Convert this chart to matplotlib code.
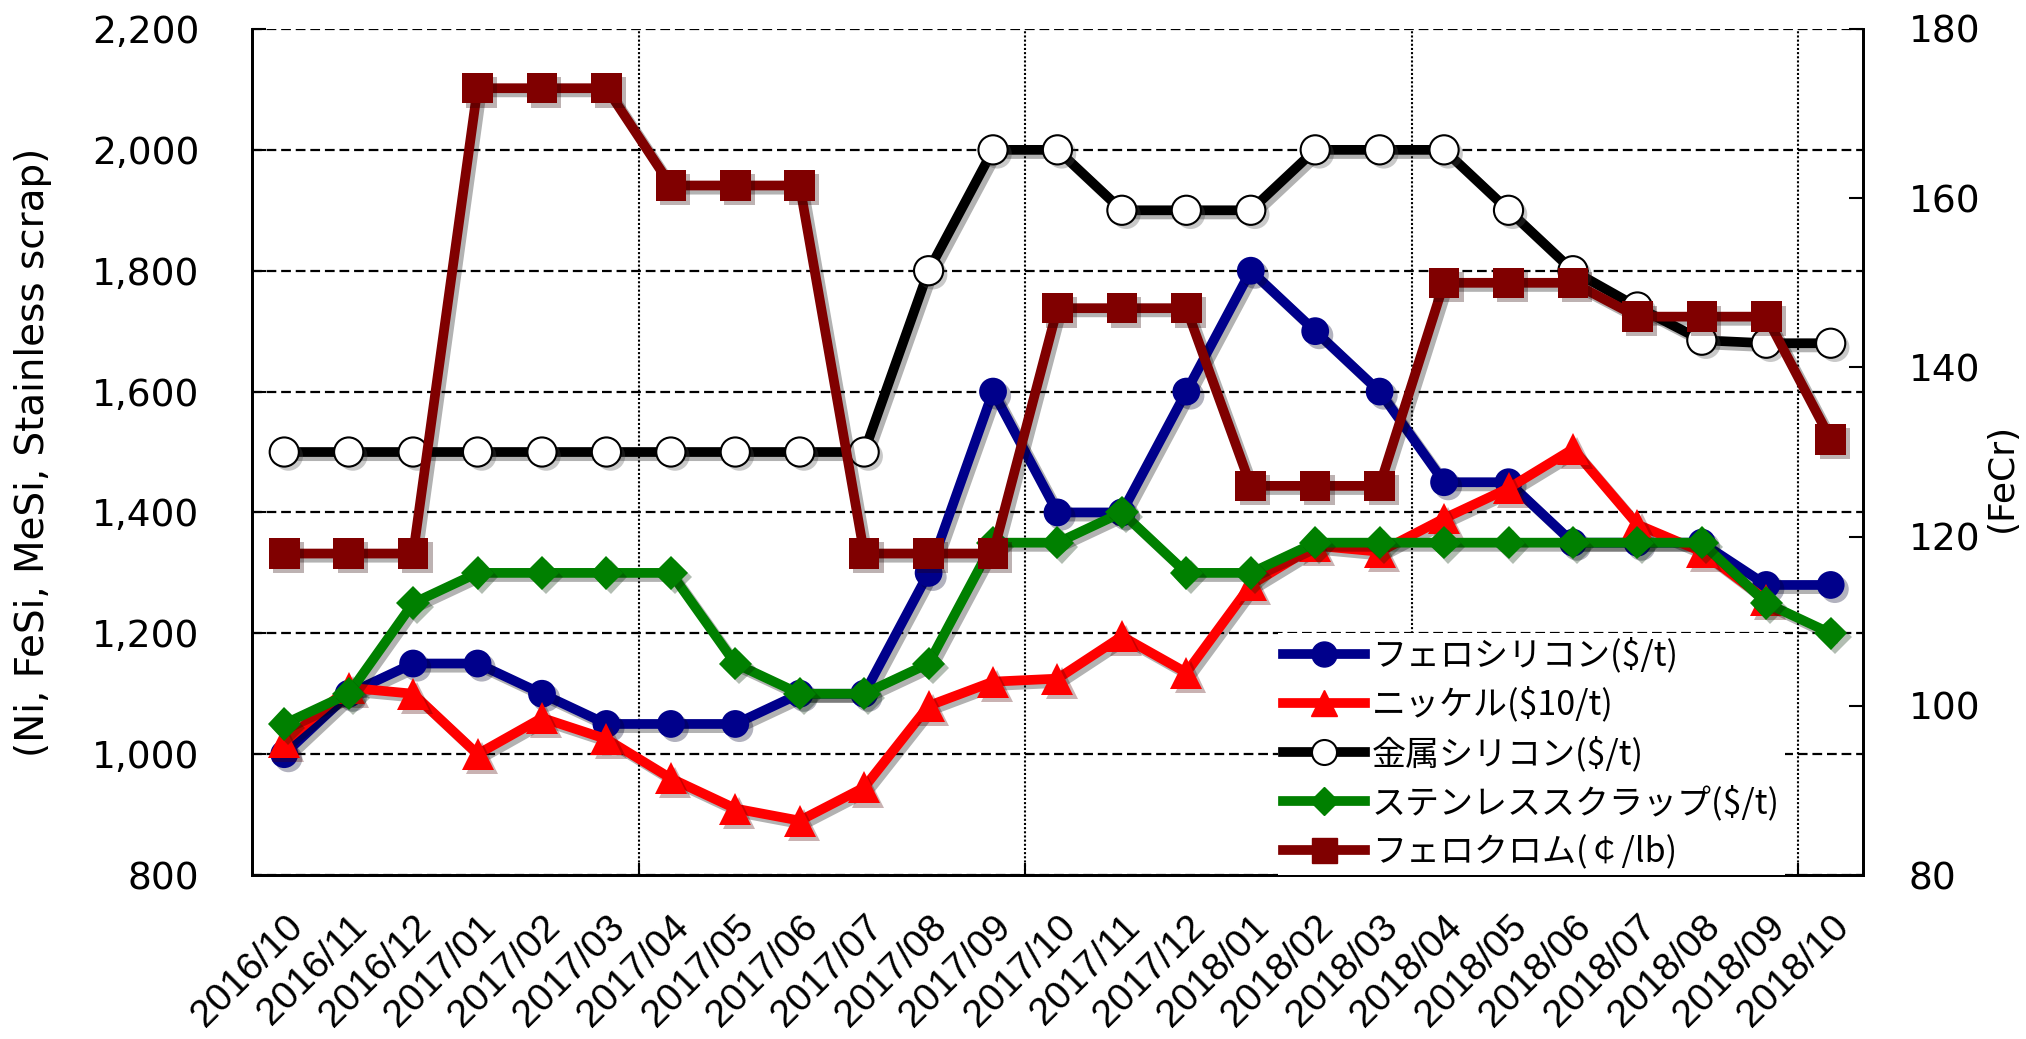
import numpy as np
import matplotlib
matplotlib.use('Agg')
import matplotlib.pyplot as plt
import matplotlib.patheffects as pe
from matplotlib.lines import Line2D

plt.rcParams['font.family'] = ['DejaVu Sans', 'Noto Sans CJK JP']
plt.rcParams['lines.scale_dashes'] = False

# データ
months = ['2016/10', '2016/11', '2016/12',
          '2017/01', '2017/02', '2017/03', '2017/04', '2017/05', '2017/06',
          '2017/07', '2017/08', '2017/09', '2017/10', '2017/11', '2017/12',
          '2018/01', '2018/02', '2018/03', '2018/04', '2018/05', '2018/06',
          '2018/07', '2018/08', '2018/09', '2018/10']

fesi = [1000, 1100, 1150, 1150, 1100, 1050, 1050, 1050, 1100, 1100, 1300, 1600,
        1400, 1400, 1600, 1800, 1700, 1600, 1450, 1450, 1350, 1350, 1350, 1280, 1280]
nickel = [1020, 1110, 1100, 1000, 1060, 1025, 960, 910, 890, 945, 1080, 1120,
          1125, 1195, 1135, 1280, 1345, 1335, 1390, 1440, 1505, 1380, 1335, 1255, np.nan]
mesi = [1500, 1500, 1500, 1500, 1500, 1500, 1500, 1500, 1500, 1500, 1800, 2000,
        2000, 1900, 1900, 1900, 2000, 2000, 2000, 1900, 1800, 1740, 1685, 1680, 1680]
scrap = [1050, 1100, 1250, 1300, 1300, 1300, 1300, 1150, 1100, 1100, 1150, 1350,
         1350, 1400, 1300, 1300, 1350, 1350, 1350, 1350, 1350, 1350, 1350, 1250, 1200]
fecr = [118, 118, 118, 173, 173, 173, 161.5, 161.5, 161.5, 118, 118, 118,
        147, 147, 147, 126, 126, 126, 150, 150, 150, 146, 146, 146, 131.5]

names = ['フェロシリコン($/t)', 'ニッケル($10/t)', '金属シリコン($/t)',
         'ステンレススクラップ($/t)', 'フェロクロム(￠/lb)']

x = np.arange(len(months))

fig = plt.figure(figsize=(20.26, 10.39), dpi=100)
ax = fig.add_axes([0.1244, 0.1578, 0.7951, 0.8143])
ax2 = ax.twinx()

line_fx = [pe.SimpleLineShadow(offset=(3, -3), alpha=0.3), pe.Normal()]
mark_fx = [pe.SimplePatchShadow(offset=(3, -3), alpha=0.3), pe.Normal()]


def serie(a, y, color, marker, ms, mfc=None, mec=None, mew=0):
    a.plot(x, y, color=color, lw=7, solid_joinstyle='round', path_effects=line_fx)
    a.plot(x, y, ls='none', marker=marker, ms=ms, mfc=mfc or color,
           mec=mec or color, mew=mew, path_effects=mark_fx)


serie(ax, fesi, '#00008B', 'o', 20)
serie(ax, nickel, '#FF0000', '^', 23)
serie(ax, mesi, '#000000', 'o', 21, mfc='white', mec='black', mew=1.5)
serie(ax, scrap, '#008000', 'D', 17)
serie(ax2, fecr, '#800000', 's', 22)

ax.set_xlim(-0.5, 24.5)
ax.set_ylim(800, 2200)
ax2.set_ylim(80, 180)

yt = list(range(800, 2201, 200))
ax.set_yticks(yt)
ax.set_yticklabels([f'{v:,}' for v in yt])
ax2.set_yticks(range(80, 181, 20))

ax.set_xticks(x)
ax.set_xticklabels(months, rotation=45, ha='right', rotation_mode='anchor',
                   fontfamily='Liberation Sans', fontsize=28)
ax.set_xticks([5.5, 11.5, 17.5, 23.5], minor=True)
ax.tick_params(axis='x', which='major', length=0, pad=24)
ax.tick_params(axis='x', which='minor', direction='in', length=9, width=1.5)
ax.tick_params(axis='y', direction='in', length=10, width=1.5, pad=38, labelsize=27)
ax2.tick_params(axis='y', direction='in', length=10, width=1.5, pad=33, labelsize=27)

ax.set_axisbelow(True)
ax.grid(which='major', axis='y', color='k', ls=(0, (7, 3.5)), lw=1.6)
ax.grid(which='minor', axis='x', color='k', ls=(0, (1.5, 1.5)), lw=1.5)

for a in (ax, ax2):
    a.spines['top'].set_visible(False)
    for s in ('left', 'right', 'bottom'):
        a.spines[s].set_linewidth(2)

ax.set_ylabel('(Ni, FeSi, MeSi, Stainless scrap)', fontsize=28)
ax.yaxis.set_label_coords(-0.124, 0.5)
ax2.set_ylabel('(FeCr)', fontsize=26)
ax2.yaxis.set_label_coords(1.076, 0.47)

handles = [
    Line2D([], [], color='#00008B', lw=7, marker='o', ms=18),
    Line2D([], [], color='#FF0000', lw=7, marker='^', ms=19),
    Line2D([], [], color='#000000', lw=7, marker='o', ms=18, mfc='white', mec='black', mew=1.5),
    Line2D([], [], color='#008000', lw=7, marker='D', ms=14),
    Line2D([], [], color='#800000', lw=7, marker='s', ms=18),
]
ax2.legend(handles, names, loc='lower left', bbox_to_anchor=(0.637, 0.0),
           frameon=True, facecolor='white', edgecolor='none', framealpha=1,
           fancybox=False, prop={'family': 'Noto Sans CJK JP', 'size': 24.5},
           handlelength=2.4, handletextpad=0.2, labelspacing=0.4,
           borderpad=0.15, borderaxespad=0)

fig.savefig('out.png', dpi=100)
